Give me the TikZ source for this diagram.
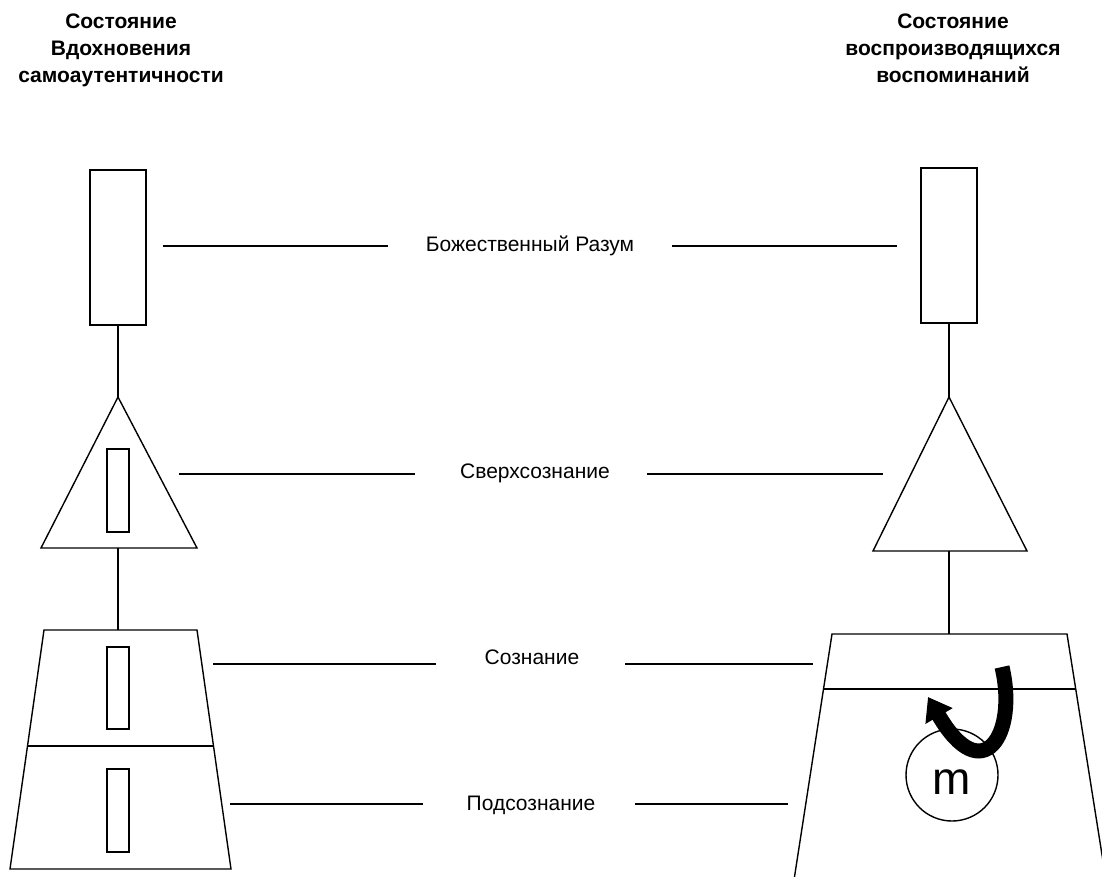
\documentclass[tikz,border=0pt]{standalone}
\usepackage{fontspec}
\setmainfont{Liberation Sans}
\usetikzlibrary{arrows.meta}
\begin{document}
\begin{tikzpicture}[x=1pt,y=-1pt,line width=1.4pt,line join=miter,
  box/.style={draw,rectangle,inner sep=0pt,line width=1.4pt},
  lbl/.style={font=\fontsize{21}{25}\selectfont,inner sep=0pt,anchor=base},
  ttl/.style={font=\bfseries\fontsize{21}{27}\selectfont,align=center,inner sep=0pt,anchor=north},
  link/.style={draw,line width=1.4pt},
  bigarrow/.style={draw,line width=15pt,line cap=butt,-{Triangle[width=30pt,length=22pt]}}]
\useasboundingbox (0,0) rectangle (1102,876);

% titles
\node[ttl] (tl) at (121,13.5) {Состояние\\Вдохновения\\самоаутентичности};
\node[ttl] (tr) at (953,13.5) {Состояние\\воспроизводящихся\\воспоминаний};

% labels
\node[lbl] (bz) at (530,251.5) {Божественный Разум};
\node[lbl] (sv) at (535,478) {Сверхсознание};
\node[lbl] (so) at (532,664.5) {Сознание};
\node[lbl] (po) at (531,810) {Подсознание};

% ---------- left column ----------
\node[box,minimum width=56pt,minimum height=155pt] (lbox) at (118,247.5) {};
\coordinate (ltA) at (118,397);
\coordinate (ltL) at (41,548);
\coordinate (ltR) at (197,548);
\coordinate (ltM) at (118,548);
\draw (ltA) -- (ltR) -- (ltL) -- cycle;
\node[box,minimum width=22pt,minimum height=83pt] (lti) at (118,490.5) {};
\coordinate (lqTL) at (44,630);
\coordinate (lqTR) at (197,630);
\coordinate (lqTM) at (118,630);
\coordinate (lqML) at (27.5,746);
\coordinate (lqMR) at (213.5,746);
\coordinate (lqBL) at (10,869);
\coordinate (lqBR) at (231,869);
\draw (lqTL) -- (lqTR) -- (lqBR) -- (lqBL) -- cycle;
\draw (lqML) -- (lqMR);
\node[box,minimum width=22pt,minimum height=82pt] (lq1) at (118,688) {};
\node[box,minimum width=22pt,minimum height=83pt] (lq2) at (118,810.5) {};
\draw[link] (lbox.south) -- (ltA);
\draw[link] (ltM) -- (lqTM);

% ---------- right column ----------
\node[box,minimum width=56pt,minimum height=155pt] (rbox) at (949,245.5) {};
\coordinate (rtA) at (949,397);
\coordinate (rtL) at (873,551);
\coordinate (rtR) at (1027,551);
\coordinate (rtM) at (949,551);
\draw (rtA) -- (rtR) -- (rtL) -- cycle;
\coordinate (rqTL) at (832,634);
\coordinate (rqTR) at (1067,634);
\coordinate (rqTM) at (949,634);
\coordinate (rqML) at (823.5,689);
\coordinate (rqMR) at (1075.5,689);
\coordinate (rqBL) at (794,880);
\coordinate (rqBR) at (1106,880);
\draw (rqBL) -- (rqTL) -- (rqTR) -- (rqBR);
\draw (rqML) -- (rqMR);
\draw[link] (rbox.south) -- (rtA);
\draw[link] (rtM) -- (rqTM);

% circle m and arrow
\node[draw,circle,minimum size=92pt,inner sep=0pt,line width=1.4pt] (mc) at (952,775) {};
\node[font=\fontsize{46}{50}\selectfont,inner sep=0pt,anchor=base] (mt) at (952,794) {m};
\coordinate (aS) at (1002,667);
\coordinate (aE) at (928,697);
\draw[bigarrow] (aS) .. controls (1018,735) and (982,790) .. (aE);

% ---------- level connectors ----------
\coordinate (b1) at (163,246); \coordinate (b2) at (388,246);
\coordinate (b3) at (672,246); \coordinate (b4) at (897,246);
\draw[link] (b1) -- (b2); \draw[link] (b3) -- (b4);
\coordinate (s1) at (179,474); \coordinate (s2) at (415,474);
\coordinate (s3) at (647,474); \coordinate (s4) at (883,474);
\draw[link] (s1) -- (s2); \draw[link] (s3) -- (s4);
\coordinate (c1) at (213,664); \coordinate (c2) at (436,664);
\coordinate (c3) at (625,664); \coordinate (c4) at (813,664);
\draw[link] (c1) -- (c2); \draw[link] (c3) -- (c4);
\coordinate (p1) at (230,804); \coordinate (p2) at (423,804);
\coordinate (p3) at (635,804); \coordinate (p4) at (788,804);
\draw[link] (p1) -- (p2); \draw[link] (p3) -- (p4);
\end{tikzpicture}
\end{document}
